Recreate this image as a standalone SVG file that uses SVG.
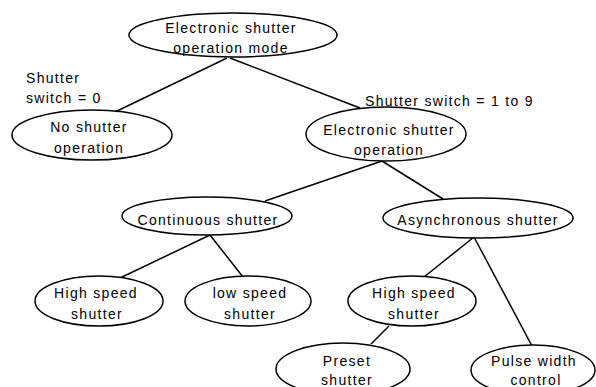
<svg xmlns="http://www.w3.org/2000/svg" width="596" height="387" viewBox="0 0 596 387">
<style>
.n{fill:#fff;stroke:#000;stroke-width:1.5}
.c line{stroke:#000;stroke-width:1.5}
text{font-family:"Liberation Sans",Arial,sans-serif;font-size:14px;letter-spacing:1.3px;fill:#000}
.m{text-anchor:middle}
</style>
<rect width="596" height="387" fill="#fff"/>
<g id="connectors" class="c">
<line x1="227" y1="58" x2="115" y2="112"/>
<line x1="230" y1="58" x2="360" y2="108"/>
<line x1="382" y1="161" x2="265" y2="201"/>
<line x1="382" y1="161" x2="443" y2="199"/>
<line x1="210" y1="235" x2="120" y2="278"/>
<line x1="210" y1="235" x2="243" y2="277"/>
<line x1="474" y1="237" x2="424" y2="277"/>
<line x1="474" y1="237" x2="532" y2="346"/>
<line x1="389" y1="326" x2="371" y2="344"/>
</g>
<g id="edge-labels">
<text x="26" y="83">Shutter</text>
<text x="26" y="103">switch = 0</text>
<text x="365" y="106">Shutter switch = 1 to 9</text>
</g>
<g id="root"><ellipse class="n" cx="233" cy="35" rx="104" ry="22"/>
<text class="m" x="231" y="33">Electronic shutter</text><text class="m" x="231" y="53">operation mode</text></g>
<g id="no-shutter"><ellipse class="n" cx="92" cy="135" rx="80" ry="25"/>
<text class="m" x="89" y="132">No shutter</text><text class="m" x="89" y="153">operation</text></g>
<g id="electronic-op"><ellipse class="n" cx="386" cy="134" rx="80" ry="27"/>
<text class="m" x="389" y="135">Electronic shutter</text><text class="m" x="389" y="155">operation</text></g>
<g id="continuous"><ellipse class="n" cx="207" cy="216" rx="85" ry="19"/>
<text class="m" x="208" y="225">Continuous shutter</text></g>
<g id="asynchronous"><ellipse class="n" cx="478" cy="218" rx="95" ry="20"/>
<text class="m" x="478" y="225">Asynchronous shutter</text></g>
<g id="high-speed-1"><ellipse class="n" cx="99" cy="301" rx="64" ry="25"/>
<text class="m" x="96" y="298">High speed</text><text class="m" x="97" y="319">shutter</text></g>
<g id="low-speed"><ellipse class="n" cx="248" cy="301" rx="63" ry="25"/>
<text class="m" x="250" y="298">low speed</text><text class="m" x="250" y="319">shutter</text></g>
<g id="high-speed-2"><ellipse class="n" cx="412" cy="301" rx="64" ry="25"/>
<text class="m" x="414" y="298">High speed</text><text class="m" x="414" y="319">shutter</text></g>
<g id="preset"><ellipse class="n" cx="343" cy="369" rx="67" ry="26"/>
<text class="m" x="347" y="366">Preset</text><text class="m" x="347" y="385">shutter</text></g>
<g id="pulse-width"><ellipse class="n" cx="533" cy="370" rx="62" ry="25"/>
<text class="m" x="534" y="366">Pulse width</text><text class="m" x="536" y="385">control</text></g>
</svg>
